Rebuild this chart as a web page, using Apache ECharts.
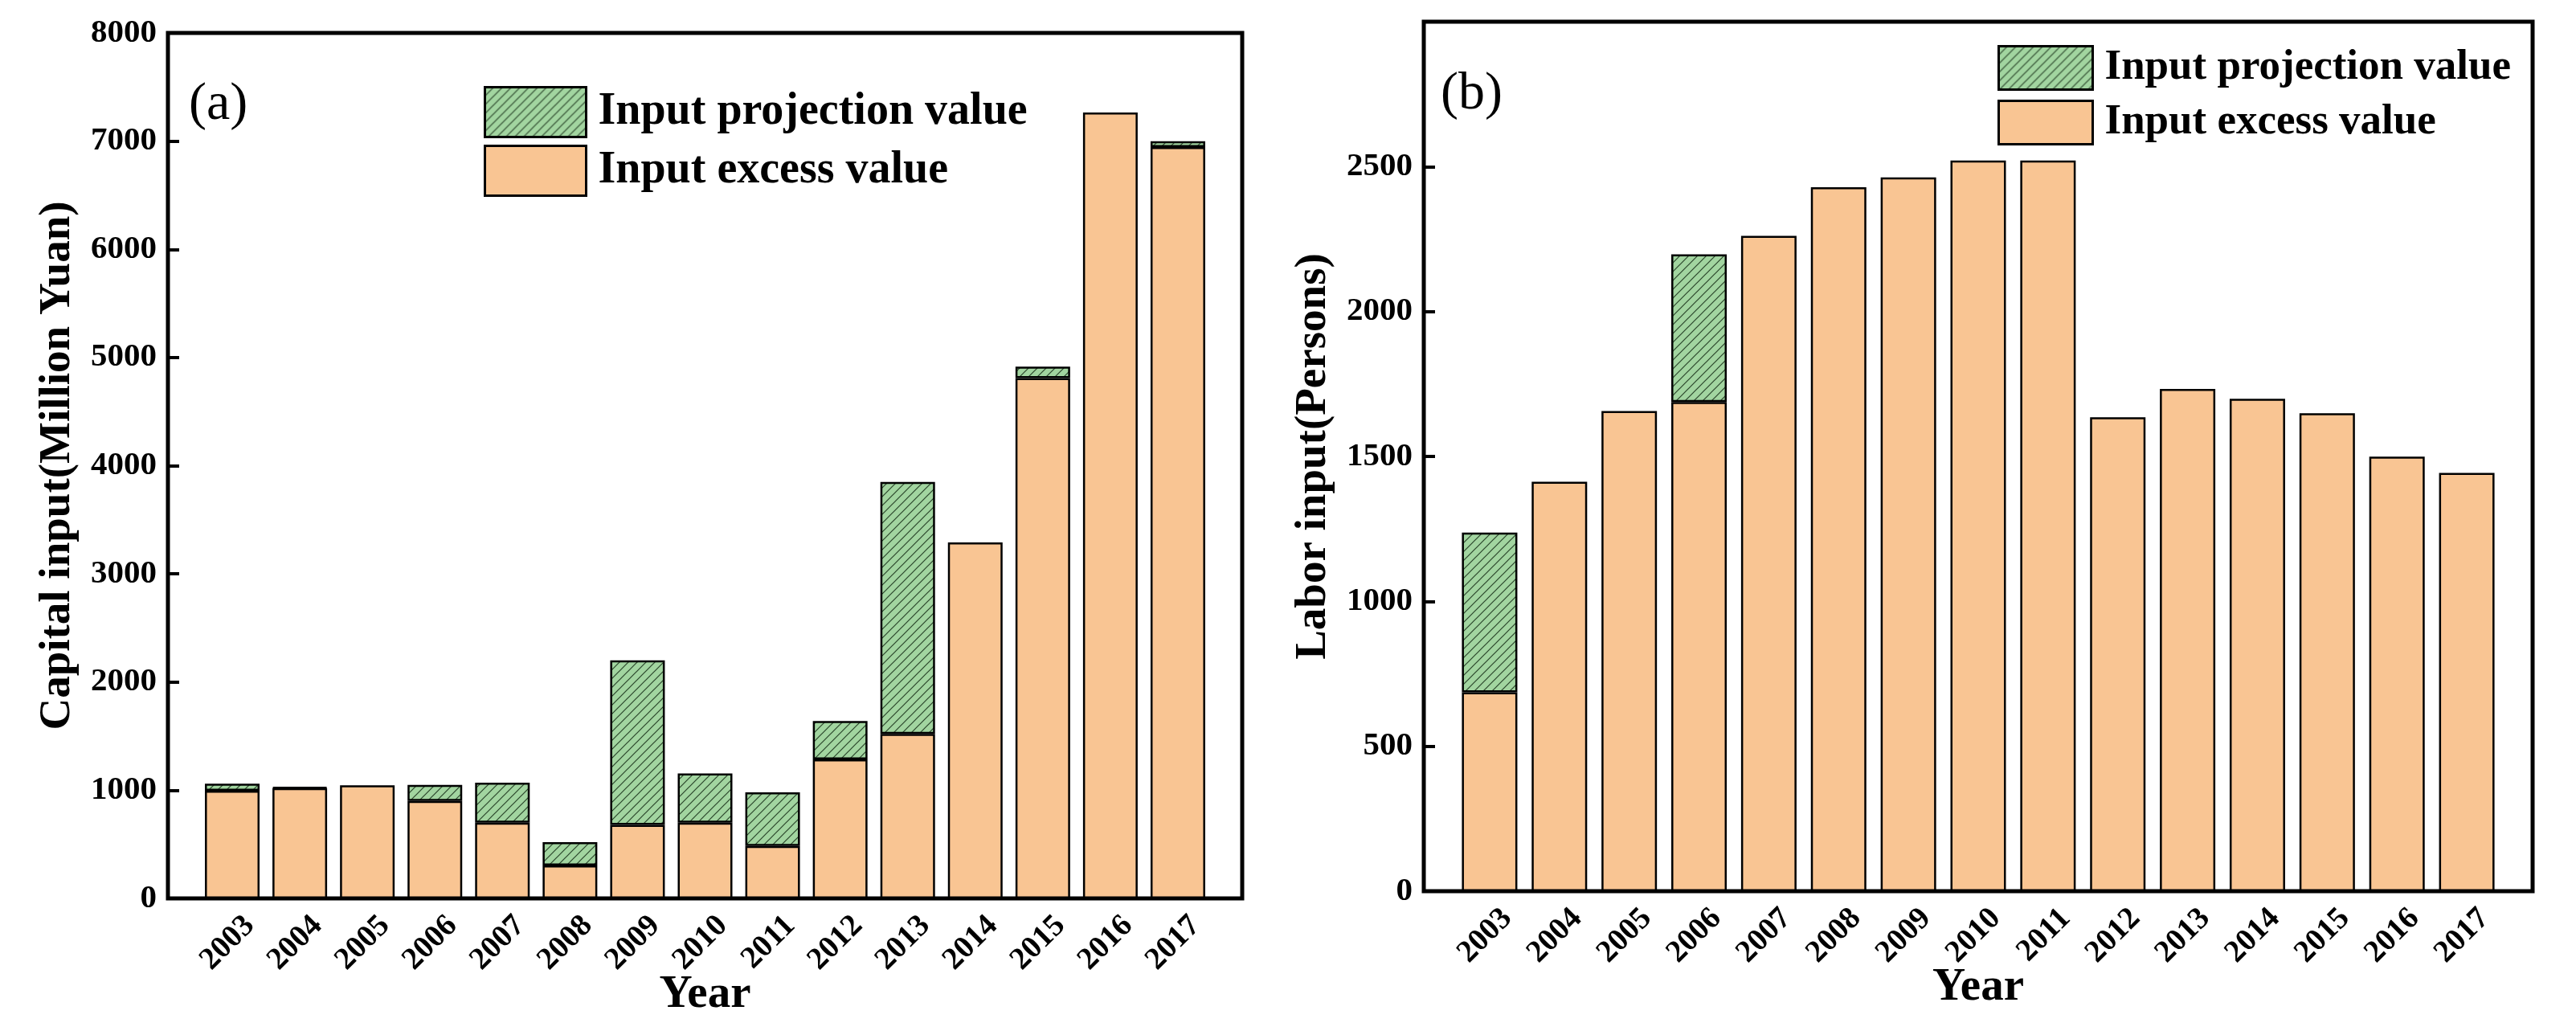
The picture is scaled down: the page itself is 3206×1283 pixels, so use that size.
<!DOCTYPE html>
<html>
<head>
<meta charset="utf-8">
<script src="https://cdn.jsdelivr.net/npm/echarts@6/dist/echarts.min.js"></script>
<style>
  html, body { margin: 0; padding: 0; background: #ffffff; }
  #chart { width: 3206px; height: 1283px; }
</style>
</head>
<body>
<div id="chart"></div>
<script>
// ---- data ----
const years = ['2003','2004','2005','2006','2007','2008','2009','2010','2011','2012','2013','2014','2015','2016','2017'];
const capitalExcess     = [995, 1020, 1045, 900, 700, 305, 680, 700, 485, 1285, 1520, 3290, 4810, 7265, 6945];
const capitalProjection = [65, 8, 0, 150, 370, 215, 1520, 455, 495, 355, 2330, 0, 105, 0, 55];
const laborExcess       = [686, 1413, 1657, 1688, 2261, 2429, 2463, 2521, 2521, 1635, 1733, 1699, 1649, 1499, 1443];
const laborProjection   = [551, 0, 0, 509, 0, 0, 0, 0, 0, 0, 0, 0, 0, 0, 0];
const capitalAxis = { min: 0, max: 8000, interval: 1000 };
const laborAxis   = { min: 0, max: 3000, interval: 500 };
const seriesNames = ['Input projection value', 'Input excess value'];

// ---- styles ----
const FONT = 'Liberation Serif';
const ORANGE = '#F9C593';
function hatchPattern() {
  const s = 11;
  const c = document.createElement('canvas');
  c.width = s; c.height = s;
  const g = c.getContext('2d');
  g.fillStyle = '#A2D5A0';
  g.fillRect(0, 0, s, s);
  g.strokeStyle = '#2a442a';
  g.lineWidth = 1.2;
  g.beginPath();
  g.moveTo(-1, s + 1); g.lineTo(s + 1, -1);
  g.moveTo(-1, 1); g.lineTo(1, -1);
  g.moveTo(s - 1, s + 1); g.lineTo(s + 1, s - 1);
  g.stroke();
  return { image: c, repeat: 'repeat' };
}
const HATCH = hatchPattern();
const nz = arr => arr.map(v => (v > 0 ? v : '-'));

const panels = [
  { outer: { left: 209, top: 41, width: 1337, height: 1077 }, inset: 38, labelShift: 22,
    axis: capitalAxis, name: 'Capital input(Million Yuan)', showMax: true,
    excess: capitalExcess, proj: capitalProjection, barWidth: 68,
    tag: '(a)', tagPos: [235, 98],
    legend: { left: 602, top: 107, w: 126, h: 62, gap: 8, fs: 56 } },
  { outer: { left: 1772, top: 27, width: 1380, height: 1082 }, inset: 38.5, labelShift: 22,
    axis: laborAxis, name: 'Labor input(Persons)', showMax: false,
    excess: laborExcess, proj: laborProjection, barWidth: 69,
    tag: '(b)', tagPos: [1793, 85],
    legend: { left: 2486, top: 56, w: 117, h: 54, gap: 11, fs: 53 } }
];

const grid = [], xAxis = [], yAxis = [], series = [], legend = [], title = [];
panels.forEach((p, k) => {
  const o = p.outer;
  const base = grid.length;
  grid.push({ left: o.left, top: o.top, width: o.width, height: o.height,
              show: true, borderColor: '#000', borderWidth: 5, backgroundColor: 'transparent' });
  grid.push({ left: o.left + p.inset, top: o.top, width: o.width - 2 * p.inset, height: o.height });
  grid.push({ left: o.left + p.inset + p.labelShift, top: o.top, width: o.width - 2 * p.inset, height: o.height });

  xAxis.push({ type: 'category', gridIndex: base, data: years,
    axisLine: { show: false }, axisTick: { show: false }, axisLabel: { show: false }, splitLine: { show: false },
    name: 'Year', nameLocation: 'middle', nameGap: 92,
    nameTextStyle: { fontFamily: FONT, fontWeight: 'bold', fontSize: 57, color: '#000' } });
  xAxis.push({ type: 'category', gridIndex: base + 1, data: years, show: false });
  xAxis.push({ type: 'category', gridIndex: base + 2, data: years,
    axisLine: { show: false }, axisTick: { show: false }, splitLine: { show: false },
    axisLabel: { show: true, interval: 0, rotate: 45, margin: 28,
      fontFamily: FONT, fontWeight: 'bold', fontSize: 39, color: '#000' } });

  yAxis.push({ type: 'value', gridIndex: base, min: p.axis.min, max: p.axis.max, interval: p.axis.interval,
    axisLine: { show: false }, splitLine: { show: false },
    axisTick: { show: true, inside: true, length: 14, lineStyle: { color: '#000', width: 4 } },
    axisLabel: { show: true, margin: 14, showMaxLabel: p.showMax, formatter: v => String(v),
      fontFamily: FONT, fontWeight: 'bold', fontSize: 41, color: '#000' },
    name: p.name, nameLocation: 'middle', nameGap: 110,
    nameTextStyle: { fontFamily: FONT, fontWeight: 'bold', fontSize: 55, color: '#000' } });
  yAxis.push({ type: 'value', gridIndex: base + 1, min: p.axis.min, max: p.axis.max, show: false, splitLine: { show: false } });
  yAxis.push({ type: 'value', gridIndex: base + 2, min: p.axis.min, max: p.axis.max, show: false, splitLine: { show: false } });

  series.push({ name: seriesNames[1], type: 'bar', xAxisIndex: base + 1, yAxisIndex: base + 1,
    stack: 'p' + k, data: p.excess, barWidth: p.barWidth,
    itemStyle: { color: ORANGE, borderColor: '#000', borderWidth: 2.5 } });
  series.push({ name: seriesNames[0], type: 'bar', xAxisIndex: base + 1, yAxisIndex: base + 1,
    stack: 'p' + k, data: nz(p.proj), barWidth: p.barWidth,
    itemStyle: { color: HATCH, borderColor: '#000', borderWidth: 2.5 } });

  const L = p.legend;
  legend.push({ data: seriesNames, orient: 'vertical', left: L.left, top: L.top, padding: 0,
    itemWidth: L.w, itemHeight: L.h, itemGap: L.gap, icon: 'rect', selectedMode: false,
    itemStyle: { borderColor: '#000', borderWidth: 3 },
    textStyle: { fontFamily: FONT, fontWeight: 'bold', fontSize: L.fs, color: '#000', padding: [0, 0, 0, 10] } });

  title.push({ text: p.tag, left: p.tagPos[0], top: p.tagPos[1], padding: 0,
    textStyle: { fontFamily: FONT, fontWeight: 'normal', fontSize: 66, color: '#000' } });
});

const chart = echarts.init(document.getElementById('chart'), null, { renderer: 'canvas' });
chart.setOption({
  backgroundColor: '#ffffff',
  animation: false,
  title, grid, xAxis, yAxis, series, legend
});
</script>
</body>
</html>
